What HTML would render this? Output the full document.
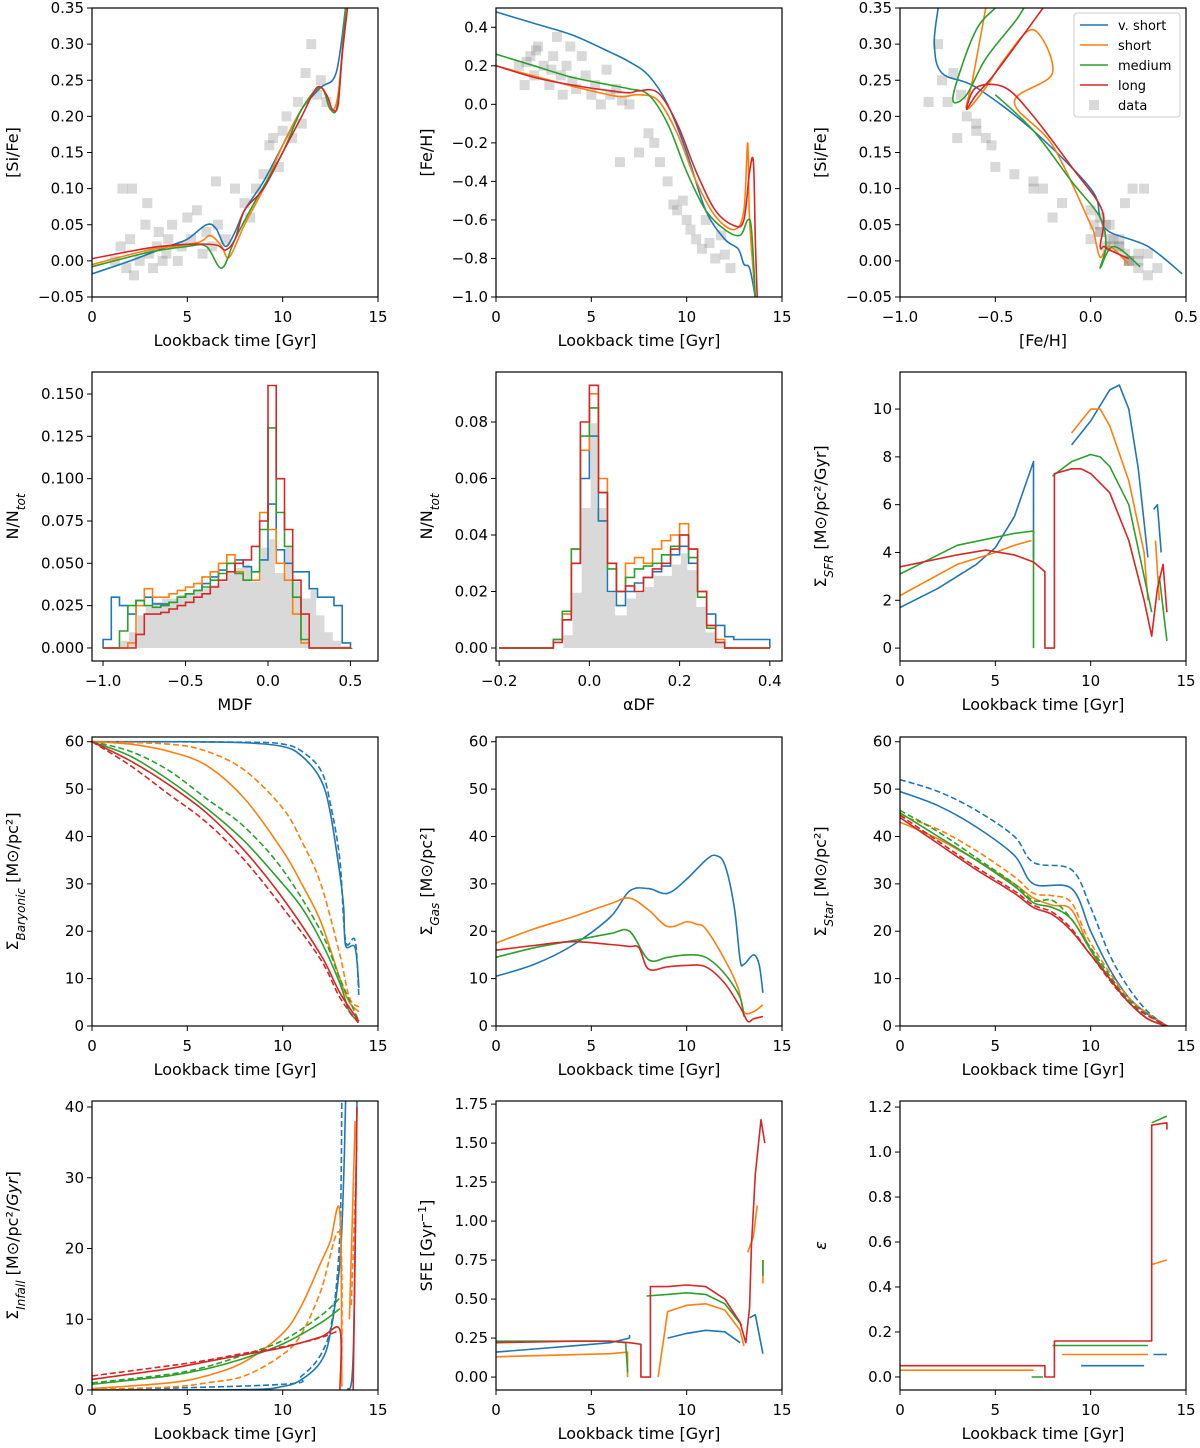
<!DOCTYPE html>
<html><head><meta charset="utf-8"><style>
html,body{margin:0;padding:0;background:#fff}
svg text{font-family:"DejaVu Sans","Liberation Sans",sans-serif;fill:#000}
</style></head><body>
<svg id="fig" width="1200" height="1443" viewBox="0 0 1200 1443" xmlns="http://www.w3.org/2000/svg"></svg>
<script>
const C={b:'#1f77b4',o:'#ff7f0e',g:'#2ca02c',r:'#d62728'};
// ---------- data ----------
const sifeT_blue=[[0,-0.018],[2,0.0],[4,0.02],[5,0.03],[6,0.05],[6.5,0.045],[7,0.02],[7.5,0.04],[8,0.07],[9,0.11],[10,0.16],[11,0.21],[12,0.24],[12.8,0.26],[13.3,0.35]];
const sifeT_orange=[[0,-0.005],[3,0.015],[5.5,0.025],[6.2,0.035],[6.8,0.02],[7.2,0.005],[8,0.05],[9,0.1],[10,0.16],[11,0.21],[12,0.24],[12.5,0.21],[12.9,0.23],[13.3,0.35]];
const sifeT_green=[[0,-0.008],[3,0.012],[5,0.02],[6,0.02],[6.8,-0.01],[7.5,0.03],[8.5,0.08],[10,0.15],[11,0.21],[12,0.24],[12.5,0.21],[12.9,0.22],[13.3,0.35]];
const sifeT_red=[[0,0.003],[3,0.018],[5,0.023],[6.5,0.022],[7,0.015],[7.5,0.03],[8,0.07],[9,0.1],[10,0.15],[11,0.2],[11.8,0.24],[12.3,0.23],[12.6,0.21],[12.9,0.215],[13.1,0.28],[13.4,0.35]];
const dataAge=[1.2,1.5,1.8,2.0,2.2,2.5,2.8,3.0,3.2,3.4,3.5,3.7,3.9,4.0,4.2,4.5,4.7,5.0,5.2,5.5,5.8,6.0,6.3,6.6,7.0,1.6,2.1,2.9,8.0,8.3,8.6,9.0,9.3,9.5,9.8,10.0,10.2,10.5,10.8,11.0,11.2,11.5,11.8,12.0,12.3,6.5,7.5];
const dataFeH=[0.2,0.1,0.25,0.15,0.3,0.2,0.1,0.25,0.35,0.15,0.05,0.2,0.3,0.12,0.08,0.25,0.15,0.05,0.1,0.0,0.18,0.05,0.08,0.02,0.0,0.22,0.28,0.18,-0.15,-0.2,-0.3,-0.4,-0.52,-0.55,-0.5,-0.6,-0.65,-0.7,-0.75,-0.6,-0.72,-0.8,-0.68,-0.78,-0.85,-0.3,-0.25];
const dataSiFe=[0.0,0.02,-0.01,0.03,-0.02,0.0,0.05,0.01,-0.01,0.02,0.04,0.0,0.01,0.03,0.05,0.0,0.02,0.06,0.03,0.07,0.01,0.04,0.02,0.05,0.03,0.1,0.1,0.08,0.08,0.06,0.1,0.12,0.16,0.17,0.13,0.18,0.2,0.17,0.22,0.19,0.26,0.3,0.23,0.25,0.22,0.11,0.1];
const fehT_blue=[[0,0.48],[2,0.42],[4,0.36],[6,0.27],[7,0.22],[8,0.15],[9,0.0],[10,-0.25],[11,-0.55],[12,-0.7],[12.7,-0.75],[13,-0.83],[13.3,-0.85],[13.6,-1.0]];
const fehT_orange=[[0,0.2],[3,0.12],[5,0.07],[6.5,0.04],[7.5,0.05],[8.5,0.02],[9.5,-0.15],[10.5,-0.4],[11.5,-0.58],[12.5,-0.65],[13,-0.55],[13.2,-0.2],[13.3,-0.6],[13.6,-1.0]];
const fehT_green=[[0,0.26],[2,0.2],[4,0.14],[6,0.1],[7,0.08],[8,0.05],[9,-0.1],[10,-0.35],[11,-0.55],[12,-0.65],[12.8,-0.68],[13.2,-0.6],[13.4,-0.65],[13.6,-1.0]];
const fehT_red=[[0,0.2],[2,0.14],[4,0.1],[6,0.07],[7,0.06],[7.5,0.07],[8.5,0.06],[9.5,-0.1],[10.5,-0.35],[11.5,-0.55],[12.5,-0.63],[13,-0.6],[13.3,-0.35],[13.5,-0.3],[13.6,-0.7],[13.7,-1.0]];
const track_blue=[[-0.8,0.35],[-0.82,0.3],[-0.78,0.26],[-0.6,0.24],[-0.3,0.18],[0,0.1],[0.05,0.06],[0.1,0.04],[0.3,0.02],[0.48,-0.018]];
const track_orange=[[-0.55,0.35],[-0.62,0.25],[-0.65,0.21],[-0.55,0.24],[-0.45,0.28],[-0.3,0.32],[-0.2,0.26],[-0.4,0.22],[-0.2,0.16],[0,0.05],[0.02,0.035],[0.05,0.005],[0.1,0.02],[0.2,-0.005]];
const track_green=[[-0.5,0.35],[-0.6,0.32],[-0.7,0.25],[-0.72,0.22],[-0.65,0.23],[-0.55,0.28],[-0.4,0.33],[-0.35,0.35],null,[-0.5,0.23],[-0.3,0.18],[-0.1,0.11],[0.05,0.06],[0.08,0.02],[0.05,-0.01],[0.12,0.02],[0.26,-0.008]];
const track_red=[[-0.25,0.35],[-0.5,0.26],[-0.6,0.23],[-0.65,0.21],[-0.6,0.24],[-0.45,0.24],[-0.3,0.2],[-0.1,0.13],[0.06,0.07],[0.05,0.02],[0.07,0.02],[0.1,0.015],[0.2,0.003]];
const mdfEdge0=-1.0, mdfBin=0.05;
const mdf_data=[0,0,0.005,0.01,0.02,0.025,0.028,0.03,0.03,0.032,0.033,0.034,0.036,0.038,0.04,0.045,0.048,0.05,0.04,0.06,0.065,0.045,0.06,0.04,0.03,0.035,0.02,0.01,0.005,0.002];
const mdf_blue=[0.005,0.03,0.025,0.02,0.028,0.03,0.026,0.026,0.027,0.03,0.032,0.034,0.038,0.042,0.046,0.05,0.052,0.048,0.045,0.052,0.085,0.058,0.05,0.045,0.045,0.035,0.03,0.03,0.025,0.003];
const mdf_orange=[0,0,0,0.003,0.025,0.035,0.03,0.03,0.032,0.034,0.036,0.038,0.042,0.045,0.05,0.055,0.045,0.04,0.04,0.08,0.07,0.05,0.04,0.02,0.003,0,0,0,0,0];
const mdf_green=[0,0,0.01,0.025,0.028,0.025,0.024,0.025,0.027,0.03,0.032,0.034,0.036,0.04,0.044,0.05,0.044,0.04,0.045,0.07,0.13,0.08,0.06,0.03,0.005,0,0,0,0,0];
const mdf_red=[0,0,0,0,0.008,0.02,0.02,0.021,0.023,0.025,0.027,0.03,0.032,0.036,0.04,0.045,0.05,0.052,0.06,0.075,0.155,0.1,0.07,0.04,0.02,0,0,0,0,0];
const adfEdge0=-0.2, adfBin=0.02;
const adf_data=[0,0,0,0,0,0,0,0.005,0.02,0.05,0.08,0.05,0.02,0.012,0.018,0.02,0.022,0.026,0.026,0.03,0.034,0.028,0.015,0.006,0.002,0,0,0,0,0];
const adf_blue=[0,0,0,0,0,0,0.003,0.01,0.03,0.06,0.075,0.045,0.02,0.015,0.02,0.023,0.025,0.027,0.029,0.033,0.036,0.03,0.02,0.012,0.008,0.004,0.003,0.003,0.003,0.003];
const adf_orange=[0,0,0,0,0,0,0.003,0.012,0.035,0.07,0.09,0.06,0.03,0.02,0.03,0.032,0.03,0.035,0.038,0.04,0.044,0.035,0.02,0.008,0.003,0,0,0,0,0];
const adf_green=[0,0,0,0,0,0,0.003,0.013,0.035,0.075,0.085,0.055,0.028,0.02,0.025,0.028,0.029,0.03,0.033,0.036,0.04,0.032,0.018,0.007,0.002,0,0,0,0,0];
const adf_red=[0,0,0,0,0,0,0.002,0.01,0.03,0.08,0.093,0.055,0.03,0.02,0.022,0.02,0.025,0.028,0.03,0.035,0.04,0.035,0.02,0.008,0.002,0,0,0,0,0];
const sfr_blue=[[0,1.7],[2,2.5],[4,3.5],[5,4.2],[6,5.5],[7,7.8],[7,3.7],null,[9,8.5],[10,9.5],[11,10.8],[11.5,11],[12,10],[12.5,7.5],[13,3.8],null,[13.3,5.8],[13.5,6],[13.7,4]];
const sfr_orange=[[0,2.2],[3,3.5],[5,4.0],[6,4.3],[6.9,4.5],null,[9,9.0],[9.5,9.5],[10,10.0],[10.5,10],[11,9.3],[12,7],[12.8,4],[13,2],null,[13.4,4.5],[13.6,2.0]];
const sfr_green=[[0,3.1],[3,4.3],[6,4.8],[7,4.9],[7,0],null,[8,7.2],[9,7.8],[10,8.1],[10.5,8.0],[11,7.6],[12,6],[12.8,3],[13.2,1.5],null,[13.6,3],[14,0.3]];
const sfr_red=[[0,3.4],[3,3.9],[4.5,4.1],[6,3.9],[7,3.6],[7.6,3.2],[7.6,0],[8.1,0],[8.1,7.3],[9,7.5],[9.5,7.5],[10,7.3],[11,6.5],[12,4.5],[12.8,2],[13.2,0.5],[13.5,2.5],[13.8,3.5],[14,1.5]];
const bar_blue=[[0,60],[5,60],[8,59.8],[10,59],[11,57],[12,52],[12.5,45],[13,32],[13.2,25],[13.3,17],[13.8,16.5],[14,8]];
const bar_blue_d=[[0,60],[8,59.9],[10,59.5],[11,58],[12,54],[12.5,47],[13,35],[13.3,18],[13.8,18],[14,6]];
const bar_orange=[[0,60],[2,59.5],[4,58],[6,55],[8,48],[10,37],[11,30],[12,22],[13,10],[13.5,5],[14,3]];
const bar_orange_d=[[0,60],[4,59.5],[6,58],[8,54],[10,46],[11,39],[12,30],[13,15],[13.5,6],[14,4]];
const bar_green=[[0,60],[2,57],[4,52],[6,46],[8,39],[10,30],[11,25],[12,18],[13,9],[13.5,3],[14,1]];
const bar_green_d=[[0,60],[2,58],[4,54],[6,48],[8,42],[10,33],[12,20],[13,10],[14,1]];
const bar_red=[[0,60],[2,56],[4,51],[6,45],[8,37],[10,27],[12,15],[13,7],[14,1]];
const bar_red_d=[[0,60],[2,55],[4,49],[6,43],[8,35],[10,25],[12,14],[13,6],[14,0.5]];
const gas_blue=[[0,10.5],[2,13],[4,17],[6,23],[7,28.5],[8,29],[9,28],[10,31],[11,35],[11.5,36],[12,34],[12.5,25],[12.8,14],[13,13],[13.5,15],[13.8,13],[14,7]];
const gas_orange=[[0,17.5],[2,20.5],[4,23],[6,25.8],[7,27],[8,24.5],[9,21],[10,22],[10.5,21.5],[11,20.5],[12,14],[12.7,8],[13,3],[13.5,3],[14,4.5]];
const gas_green=[[0,14.5],[2,16.5],[4,18],[6,19.5],[7,20],[8,14],[9,14.5],[10,15],[11,14.5],[12,11],[12.8,6],[13,2]];
const gas_red=[[0,16],[2,17],[4,17.8],[6,17.2],[7,16.8],[7.5,16.5],[8,12],[9,12.5],[10,12.8],[11,12.5],[12,9],[12.8,4],[13.2,1],[13.5,1.5],[14,2]];
const star_blue=[[0,49.5],[2,46.5],[4,42],[6,36],[7,30],[9,29],[10,20],[11,12],[12,6],[13,2.5],[14,0]];
const star_blue_d=[[0,52],[2,49.5],[4,45.5],[6,40],[7,34.5],[9,33],[10,25],[11,15],[12,8],[13,3],[14,0]];
const star_orange=[[0,43],[2,39.5],[4,35],[6,30],[7,27],[8,25.5],[9,24.5],[10,16],[11,10],[12,5],[13,1.5],[14,0]];
const star_orange_d=[[0,44.5],[2,41.5],[4,37],[6,31.5],[7,28],[8,27.5],[9,26],[10,17.5],[12,6],[14,0]];
const star_green=[[0,45],[2,40],[4,35],[6,29.5],[7,26],[8,25],[9,22.5],[10,16],[11,10],[12,5],[13,1.5],[14,0]];
const star_green_d=[[0,45.5],[2,41],[4,35.5],[6,30],[7,26.5],[8,26.5],[9,22.5],[10,16.5],[12,5.5],[14,0]];
const star_red=[[0,44],[2,38.5],[4,33],[6,28],[7,25],[8,23.5],[9,20],[10,15],[11,10],[12,5],[13,1.5],[14,0]];
const star_red_d=[[0,44.5],[2,39],[4,33.5],[6,28.5],[7,25.5],[8,24],[9,20.5],[10,15],[12,5],[14,0]];
const inf_blue=[[0,0],[8,0.05],[10,0.5],[11,1.5],[12,4],[12.5,8],[13,18],[13.2,30],[13.3,41],null,[13.4,0],[13.7,5],[13.9,41]];
const inf_blue_d=[[0,0],[10,0.8],[11,2],[12,5],[12.6,10],[13,22],[13.1,41]];
const inf_orange=[[0,0.2],[4,1],[6,2],[8,4],[10,8],[11,12],[12,18],[12.5,21],[13,25],[13.1,0.5],null,[13.5,10],[13.8,38]];
const inf_orange_d=[[0,0.1],[4,0.4],[6,1],[8,2],[10,5],[11,8],[12,14],[13,22],[13.1,1],null,[13.6,12],[13.9,35]];
const inf_green=[[0,0.8],[4,2],[6,3],[8,4.5],[10,6.5],[12,9.5],[13,11.5]];
const inf_green_d=[[0,1],[4,2.2],[6,3.3],[8,5],[10,7],[12,10.5],[13,13]];
const inf_red=[[0,1.5],[4,3],[6,4],[8,5],[10,6],[12,7.5],[13,8.5],[13,0],null,[13.7,0],[13.9,40]];
const inf_red_d=[[0,2],[4,3.4],[6,4.2],[8,5.2],[10,6.1],[12,7.4],[13,8.5]];
const sfe_blue=[[0,0.16],[2,0.18],[4,0.2],[6,0.22],[7,0.25],[7,0.27],null,[9,0.25],[10,0.28],[11,0.3],[12,0.29],[12.8,0.22],null,[13.3,0.38],[13.6,0.4],[14,0.15]];
const sfe_orange=[[0,0.13],[3,0.14],[6,0.15],[6.9,0.16],[6.9,0],null,[8.5,0],[9,0.42],[10,0.46],[11,0.47],[12,0.43],[12.8,0.3],[13,0.2],null,[13.2,0.8],[13.5,0.9],[13.7,1.1],null,[14,0.6],[14,0.75]];
const sfe_green=[[0,0.23],[3,0.23],[6,0.23],[6.8,0.22],[6.9,0.03],null,[7.9,0.52],[9,0.53],[10,0.54],[11,0.53],[12,0.47],[12.9,0.33],null,[14,0.65],[14,0.75]];
const sfe_red=[[0,0.22],[2,0.225],[4,0.23],[6,0.23],[7,0.22],[7.6,0.21],[7.6,0],[8.1,0],[8.1,0.58],[9,0.58],[10,0.59],[11,0.58],[12,0.5],[12.8,0.35],[13.1,0.22],[13.3,0.45],[13.4,0.85],[13.6,1.3],[13.9,1.65],[14.1,1.5]];
const eps_blue=[[9.5,0.05],[12.8,0.05],null,[13.3,0.1],[14,0.1]];
const eps_orange=[[0,0.03],[7,0.03],null,[8.5,0.1],[13,0.1],null,[13.2,0.5],[14,0.52]];
const eps_green=[[6.9,0.0],[7.5,0],null,[8,0.14],[13,0.14],null,[13.2,1.13],[14,1.16]];
const eps_red=[[0,0.05],[7.6,0.05],[7.6,0],[8.1,0],[8.1,0.16],[13.2,0.16],[13.2,1.12],[14,1.13],[14,1.1]];
const timeTicks=[0,5,10,15];
// ---------- helpers ----------
const NS='http://www.w3.org/2000/svg', svg=document.getElementById('fig');
function el(tag,attrs,parent){const e=document.createElementNS(NS,tag);for(const k in attrs)e.setAttribute(k,attrs[k]);(parent||svg).appendChild(e);return e;}
function fmt(v,d){const s=Math.abs(v).toFixed(d);return (v<-1e-9?'\u2212':'')+s;}
function panel(p){
  const g=el('g',{});
  
  
  const sx=v=>p.x0+(v-p.xmin)/(p.xmax-p.xmin)*p.w;
  const sy=v=>p.y0+p.h-(v-p.ymin)/(p.ymax-p.ymin)*p.h;
  p.sx=sx;p.sy=sy;p.g=g;
  const cp='cp'+p.name;
  const cl=el('clipPath',{id:cp},g);el('rect',{x:p.x0,y:p.y0,width:p.w,height:p.h},cl);
  p.plot=el('g',{'clip-path':'url(#'+cp+')'},g);
  p.xticks.forEach(t=>{const x=sx(t);el('line',{x1:x,x2:x,y1:p.y0+p.h,y2:p.y0+p.h+5,stroke:'#000','stroke-width':1},g);
    const tx=el('text',{x:x,y:p.y0+p.h+25,'text-anchor':'middle','font-size':15},g);tx.textContent=fmt(t,p.xd);
    });
  p.yticks.forEach(t=>{const y=sy(t);el('line',{x1:p.x0-5,x2:p.x0,y1:y,y2:y,stroke:'#000','stroke-width':1},g);
    const tx=el('text',{x:p.x0-8,y:y+5,'text-anchor':'end','font-size':15},g);tx.textContent=fmt(t,p.yd);
    });
  const xl=el('text',{x:p.x0+p.w/2,y:p.y0+p.h+49,'text-anchor':'middle','font-size':16},g);xl.innerHTML=p.xlabel;
  
  const cy=p.y0+p.h/2;
  const yl=el('text',{x:p.ylx,y:cy,'text-anchor':'middle','font-size':16,transform:`rotate(-90 ${p.ylx} ${cy})`},g);yl.innerHTML=p.ylabel;
  
  return p;
}
function frame(p){const r=el('rect',{x:p.x0,y:p.y0,width:p.w,height:p.h,fill:'none',stroke:'#000','stroke-width':1.2},p.g);
  }
function segPath(P,smooth){
  if(!P.length)return '';
  let d='M'+P[0][0].toFixed(1)+','+P[0][1].toFixed(1);
  for(let i=1;i<P.length;i++){
    if(!smooth){d+='L'+P[i][0].toFixed(1)+','+P[i][1].toFixed(1);continue;}
    const p0=P[i-2]||P[i-1],p1=P[i-1],p2=P[i],p3=P[i+1]||P[i];
    const c1=[p1[0]+(p2[0]-p0[0])/6,p1[1]+(p2[1]-p0[1])/6],c2=[p2[0]-(p3[0]-p1[0])/6,p2[1]-(p3[1]-p1[1])/6];
    d+='C'+c1.map(v=>v.toFixed(1)).join(',')+' '+c2.map(v=>v.toFixed(1)).join(',')+' '+p2[0].toFixed(1)+','+p2[1].toFixed(1);
  }
  return d;
}
function line(p,pts,color,name,dash,smooth){
  let d='',cur=[];
  pts.forEach(pt=>{if(!pt){d+=segPath(cur,smooth);cur=[];return;}cur.push([p.sx(pt[0]),p.sy(pt[1])]);});
  d+=segPath(cur,smooth);
  const e=el('path',{d:d,fill:'none',stroke:color,'stroke-width':1.6,'stroke-dasharray':dash?'6,3':'none','stroke-linejoin':'round'},p.plot);
  
  
}
function hist(p,e0,bw,h,color,name,fill){
  let d='M'+p.sx(e0)+','+p.sy(0);
  h.forEach((v,i)=>{d+='L'+p.sx(e0+i*bw).toFixed(1)+','+p.sy(v).toFixed(1)+'L'+p.sx(e0+(i+1)*bw).toFixed(1)+','+p.sy(v).toFixed(1);});
  d+='L'+p.sx(e0+h.length*bw)+','+p.sy(0);
  const e=el('path',{d:d,fill:fill?'#d9d9d9':'none',stroke:fill?'#fff':color,'stroke-width':fill?2.5:1.6},p.plot);
  
  
}
function scatter(p,xs,ys){xs.forEach((x,i)=>{const r=el('rect',{x:p.sx(x)-5,y:p.sy(ys[i])-5,width:10,height:10,fill:'#808080','fill-opacity':0.3},p.plot);
  });}
const COLX=[92,496,900], ROWY=[8,372,737,1101], W=286, H=289, YLX=[18,432,826];
const LT='Lookback time [Gyr]';
const sub=(a,b,c)=>a+'<tspan baseline-shift="sub" font-size="12" font-style="italic">'+b+'</tspan>'+(c||'');
function mk(r,c,o){return panel(Object.assign({x0:COLX[c],y0:ROWY[r],w:W,h:H,ylx:YLX[c],name:'panel-r'+(r+1)+'c'+(c+1)},o));}
const Q=[['blue',C.b],['orange',C.o],['green',C.g],['red',C.r]];
// Row 1
let p=mk(0,0,{xmin:0,xmax:15,ymin:-0.05,ymax:0.35,xticks:timeTicks,xd:0,yticks:[-0.05,0,0.05,0.1,0.15,0.2,0.25,0.3,0.35],yd:2,xlabel:LT,ylabel:'[Si/Fe]'});
scatter(p,dataAge,dataSiFe);[sifeT_blue,sifeT_orange,sifeT_green,sifeT_red].forEach((s,i)=>line(p,s,Q[i][1],'sife-time-'+Q[i][0],false,true));frame(p);
p=mk(0,1,{xmin:0,xmax:15,ymin:-1.0,ymax:0.5,xticks:timeTicks,xd:0,yticks:[-1,-0.8,-0.6,-0.4,-0.2,0,0.2,0.4],yd:1,xlabel:LT,ylabel:'[Fe/H]'});
scatter(p,dataAge,dataFeH);[fehT_blue,fehT_orange,fehT_green,fehT_red].forEach((s,i)=>line(p,s,Q[i][1],'feh-time-'+Q[i][0],false,true));frame(p);
p=mk(0,2,{xmin:-1,xmax:0.5,ymin:-0.05,ymax:0.35,xticks:[-1,-0.5,0,0.5],xd:1,yticks:[-0.05,0,0.05,0.1,0.15,0.2,0.25,0.3,0.35],yd:2,xlabel:'[Fe/H]',ylabel:'[Si/Fe]'});
scatter(p,dataFeH,dataSiFe);[track_blue,track_orange,track_green,track_red].forEach((s,i)=>line(p,s,Q[i][1],'track-'+Q[i][0],false,true));frame(p);
// legend
(function(){const g=el('g',{});
 el('rect',{x:1074,y:13,width:106,height:104,fill:'#fff',stroke:'#ccc',rx:3},g);
 const lab=['v. short','short','medium','long'];
 lab.forEach((l,i)=>{const y=25+i*20;el('line',{x1:1080,x2:1108,y1:y,y2:y,stroke:Q[i][1],'stroke-width':1.6},g);
  const t=el('text',{x:1118,y:y+5,'font-size':13},g);t.textContent=l;});
 el('rect',{x:1089,y:100,width:10,height:10,fill:'#808080','fill-opacity':0.3},g);
 const t=el('text',{x:1118,y:110,'font-size':13},g);t.textContent='data';})();
// Row 2
p=mk(1,0,{xmin:-1.067,xmax:0.667,ymin:-0.0077,ymax:0.163,xticks:[-1,-0.5,0,0.5],xd:1,yticks:[0,0.025,0.05,0.075,0.1,0.125,0.15],yd:3,xlabel:'MDF',ylabel:sub('N/N','tot')});
hist(p,mdfEdge0,mdfBin,mdf_data,null,'mdf-data',true);
[mdf_blue,mdf_orange,mdf_green,mdf_red].forEach((h,i)=>hist(p,mdfEdge0,mdfBin,h,Q[i][1],'mdf-'+Q[i][0]));frame(p);
p=mk(1,1,{xmin:-0.207,xmax:0.427,ymin:-0.0046,ymax:0.0977,xticks:[-0.2,0,0.2,0.4],xd:1,yticks:[0,0.02,0.04,0.06,0.08],yd:2,xlabel:'\u03b1DF',ylabel:sub('N/N','tot')});
hist(p,adfEdge0,adfBin,adf_data,null,'adf-data',true);
[adf_blue,adf_orange,adf_green,adf_red].forEach((h,i)=>hist(p,adfEdge0,adfBin,h,Q[i][1],'adf-'+Q[i][0]));frame(p);
p=mk(1,2,{xmin:0,xmax:15,ymin:-0.54,ymax:11.55,xticks:timeTicks,xd:0,yticks:[0,2,4,6,8,10],yd:0,xlabel:LT,ylabel:sub('\u03a3','SFR',' [M\u2299/pc\u00b2/Gyr]')});
[sfr_blue,sfr_orange,sfr_green,sfr_red].forEach((s,i)=>line(p,s,Q[i][1],'sfr-'+Q[i][0]));frame(p);
// Row 3
const sixty={xmin:0,xmax:15,ymin:0,ymax:61,xticks:timeTicks,xd:0,yticks:[0,10,20,30,40,50,60],yd:0,xlabel:LT};
p=mk(2,0,Object.assign({ylabel:sub('\u03a3','Baryonic',' [M\u2299/pc\u00b2]')},sixty));
[[bar_blue,bar_blue_d],[bar_orange,bar_orange_d],[bar_green,bar_green_d],[bar_red,bar_red_d]].forEach((s,i)=>{line(p,s[0],Q[i][1],'baryonic-'+Q[i][0],false,true);line(p,s[1],Q[i][1],'baryonic-dashed-'+Q[i][0],true,true);});frame(p);
p=mk(2,1,Object.assign({ylabel:sub('\u03a3','Gas',' [M\u2299/pc\u00b2]')},sixty));
[gas_blue,gas_orange,gas_green,gas_red].forEach((s,i)=>line(p,s,Q[i][1],'gas-'+Q[i][0],false,true));frame(p);
p=mk(2,2,Object.assign({ylabel:sub('\u03a3','Star',' [M\u2299/pc\u00b2]')},sixty));
[[star_blue,star_blue_d],[star_orange,star_orange_d],[star_green,star_green_d],[star_red,star_red_d]].forEach((s,i)=>{line(p,s[0],Q[i][1],'star-'+Q[i][0],false,true);line(p,s[1],Q[i][1],'star-dashed-'+Q[i][0],true,true);});frame(p);
// Row 4
p=mk(3,0,{xmin:0,xmax:15,ymin:0,ymax:40.85,xticks:timeTicks,xd:0,yticks:[0,10,20,30,40],yd:0,xlabel:LT,ylabel:sub('\u03a3','Infall',' [M\u2299/pc\u00b2/<tspan font-style="italic">Gyr</tspan>]')});
[[inf_blue,inf_blue_d],[inf_orange,inf_orange_d],[inf_green,inf_green_d],[inf_red,inf_red_d]].forEach((s,i)=>{line(p,s[0],Q[i][1],'infall-'+Q[i][0],false,true);line(p,s[1],Q[i][1],'infall-dashed-'+Q[i][0],true,true);});frame(p);
p=mk(3,1,{xmin:0,xmax:15,ymin:-0.083,ymax:1.77,xticks:timeTicks,xd:0,yticks:[0,0.25,0.5,0.75,1,1.25,1.5,1.75],yd:2,xlabel:LT,ylabel:'SFE [Gyr<tspan baseline-shift="super" font-size="11">\u22121</tspan>]'});
[sfe_blue,sfe_orange,sfe_green,sfe_red].forEach((s,i)=>line(p,s,Q[i][1],'sfe-'+Q[i][0]));frame(p);
p=mk(3,2,{xmin:0,xmax:15,ymin:-0.058,ymax:1.227,xticks:timeTicks,xd:0,yticks:[0,0.2,0.4,0.6,0.8,1.0,1.2],yd:1,xlabel:LT,ylabel:'<tspan font-style="italic">\u03b5</tspan>'});
[eps_blue,eps_orange,eps_green,eps_red].forEach((s,i)=>line(p,s,Q[i][1],'epsilon-'+Q[i][0]));frame(p);
</script>
</body></html>
